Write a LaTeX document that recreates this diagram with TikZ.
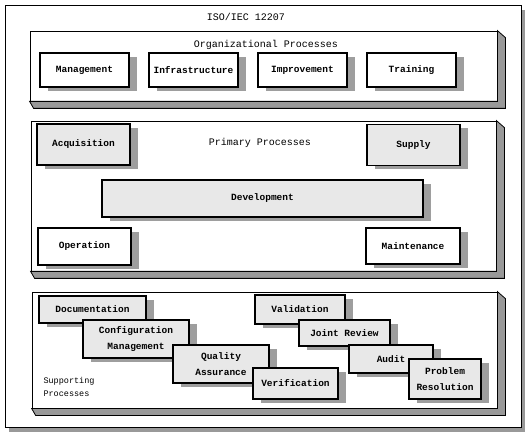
\documentclass[tikz,border=0pt]{standalone}
\usepackage{fontspec}
\usepackage{tikz}
\usetikzlibrary{positioning}
\usetikzlibrary{shadows}
\usetikzlibrary{calc}

\newfontfamily\diafont{Liberation Mono}

\begin{document}
\begin{tikzpicture}[x=1pt,y=-1pt,node distance=109pt,
    proc node/.style={draw,very thick,fill=white,inner sep=0pt,minimum width=89pt,minimum height=34pt,
      align=center,font=\diafont\bfseries\fontsize{9.5}{16}\selectfont,
      drop shadow={shadow xshift=8pt,shadow yshift=-4pt,fill=black!38,opacity=1}},
    dotted node/.style={proc node,fill=black!9},
    panel node/.style={draw,thick,fill=white,inner sep=0pt},
    title node/.style={font=\diafont\fontsize{10}{12}\selectfont},
    slab/.style={draw,thick,fill=black!40}]

  \useasboundingbox (0,0) rectangle (527,435);

  % outer frame
  \node[panel node,minimum width=516pt,minimum height=422pt,
        drop shadow={shadow xshift=4pt,shadow yshift=-5pt,fill=black!40,opacity=1}] (frame) at (263,216) {};
  \node[title node] (std) at (246,17) {ISO/IEC 12207};

  % panels with their 3d sides
  \node[panel node,minimum width=467pt,minimum height=70pt] (orgpanel) at (263.5,66) {};
  \node[panel node,minimum width=465pt,minimum height=150pt] (primpanel) at (263.5,196) {};
  \node[panel node,minimum width=465pt,minimum height=116pt] (supppanel) at (264.5,350) {};
  \foreach \p in {orgpanel,primpanel,supppanel}
    \filldraw[slab] (\p.north east) -- ++(8,7) -- ($(\p.south east)+(8,7)$)
      -- ($(\p.south west)+(4,7)$) -- (\p.south west) -- (\p.south east) -- cycle;

  % organizational
  \node[title node] (orgtitle) at (266,45) {Organizational Processes};
  \node[proc node] (mgmt) at (84.5,70) {Management};
  \node[proc node] (infra) [right of=mgmt] {Infrastructure};
  \node[proc node] (impr) [right of=infra] {Improvement};
  \node[proc node] (train) [right of=impr] {Training};

  % primary
  \node[title node] (primtitle) at (260,143) {Primary Processes};
  \node[dotted node,minimum width=93pt,minimum height=41pt] (acq) at (83.5,144.5) {Acquisition};
  \node[dotted node,minimum width=93pt,minimum height=41pt] (supply) at (413.5,145) {Supply};
  \node[dotted node,minimum width=321pt,minimum height=37pt] (dev) at (262.5,198.5) {Development};
  \node[proc node,minimum width=93pt,minimum height=37pt] (oper) at (84.5,246.5) {Operation};
  \node[proc node,minimum width=94pt,minimum height=36pt] (maint) at (413,246) {Maintenance};

  % supporting
  \node[font=\diafont\fontsize{8.5}{13}\selectfont,align=left,anchor=west] (supptitle) at (40,387) {Supporting\\Processes};
  \node[dotted node,minimum width=107pt,minimum height=27pt] (doc) at (92.5,309.5) {Documentation};
  \node[dotted node,minimum width=106pt,minimum height=38pt] (config) at (136,339) {Configuration\\Management};
  \node[dotted node,minimum width=96pt,minimum height=38pt] (qa) at (221,364) {Quality\\Assurance};
  \node[dotted node,minimum width=85pt,minimum height=31pt] (verif) at (295.5,383.5) {Verification};
  \node[dotted node,minimum width=90pt,minimum height=29pt] (valid) at (300,309.5) {Validation};
  \node[dotted node,minimum width=91pt,minimum height=26pt] (review) at (344.5,333) {Joint Review};
  \node[dotted node,minimum width=84pt,minimum height=28pt] (audit) at (391,359) {Audit};
  \node[dotted node,minimum width=72pt,minimum height=40pt] (problem) at (445,379) {Problem\\Resolution};
\end{tikzpicture}
\end{document}
